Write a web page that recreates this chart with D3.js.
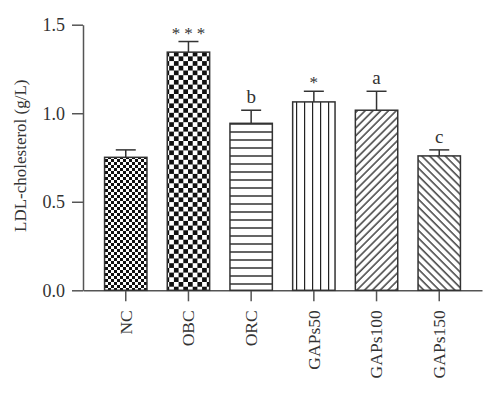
<!DOCTYPE html>
<html>
<head>
<meta charset="utf-8">
<script src="https://cdn.jsdelivr.net/npm/d3@7"></script>
<style>
	body { margin: 0; background: #fff; }
	text { font-family: 'Liberation Serif', 'DejaVu Serif', serif; fill: #333; }
</style>
</head>
<body>
<div id="chart"></div>
<script>
// data
const groups = ['NC', 'OBC', 'ORC', 'GAPs50', 'GAPs100', 'GAPs150'];
const means = [0.751, 1.345, 0.943, 1.064, 1.017, 0.759];
const errors = [0.042, 0.06, 0.074, 0.06, 0.107, 0.034];
const marks = ['', '***', 'b', '*', 'a', 'c'];
const yTicks = [0.0, 0.5, 1.0, 1.5];
const fills = ['checkSmall', 'checkBig', 'hlines', 'vlines', 'diagUp', 'diagDown'];

const width = 500;
const height = 394;
const axisColor = '#555';

const svg = d3.select('#chart')
	.append('svg')
	.attr('width', width)
	.attr('height', height);

const defs = svg.append('defs');

// fine checkerboard (NC)
let p = defs.append('pattern').attr('id', 'checkSmall')
	.attr('patternUnits', 'userSpaceOnUse').attr('width', 6).attr('height', 6);
p.append('rect').attr('width', 6).attr('height', 6).attr('fill', '#fff');
p.append('rect').attr('width', 3).attr('height', 3).attr('fill', '#111');
p.append('rect').attr('x', 3).attr('y', 3).attr('width', 3).attr('height', 3).attr('fill', '#111');

// coarse checkerboard (OBC)
p = defs.append('pattern').attr('id', 'checkBig')
	.attr('patternUnits', 'userSpaceOnUse').attr('width', 9.4).attr('height', 9.4);
p.append('rect').attr('width', 9.4).attr('height', 9.4).attr('fill', '#fff');
p.append('rect').attr('width', 4.7).attr('height', 4.7).attr('fill', '#111');
p.append('rect').attr('x', 4.7).attr('y', 4.7).attr('width', 4.7).attr('height', 4.7).attr('fill', '#111');

// horizontal lines (ORC)
p = defs.append('pattern').attr('id', 'hlines')
	.attr('patternUnits', 'userSpaceOnUse').attr('width', 8).attr('height', 8);
p.append('rect').attr('width', 8).attr('height', 8).attr('fill', '#fff');
p.append('line').attr('x1', 0).attr('x2', 8).attr('y1', 4).attr('y2', 4)
	.attr('stroke', '#222').attr('stroke-width', 1.4);

// vertical lines (GAPs50)
p = defs.append('pattern').attr('id', 'vlines')
	.attr('patternUnits', 'userSpaceOnUse').attr('width', 8).attr('height', 8);
p.append('rect').attr('width', 8).attr('height', 8).attr('fill', '#fff');
p.append('line').attr('y1', 0).attr('y2', 8).attr('x1', 0.5).attr('x2', 0.5)
	.attr('stroke', '#222').attr('stroke-width', 1.4);

// diagonal ///
p = defs.append('pattern').attr('id', 'diagUp')
	.attr('patternUnits', 'userSpaceOnUse').attr('width', 5.5).attr('height', 5.5)
	.attr('patternTransform', 'rotate(45)');
p.append('rect').attr('width', 5.5).attr('height', 5.5).attr('fill', '#fff');
p.append('line').attr('y1', 0).attr('y2', 5.5).attr('x1', 1).attr('x2', 1)
	.attr('stroke', '#222').attr('stroke-width', 1.3);

// diagonal \\\
p = defs.append('pattern').attr('id', 'diagDown')
	.attr('patternUnits', 'userSpaceOnUse').attr('width', 5.5).attr('height', 5.5)
	.attr('patternTransform', 'rotate(-45)');
p.append('rect').attr('width', 5.5).attr('height', 5.5).attr('fill', '#fff');
p.append('line').attr('y1', 0).attr('y2', 5.5).attr('x1', 1).attr('x2', 1)
	.attr('stroke', '#222').attr('stroke-width', 1.3);

const x = d3.scaleBand()
	.domain(groups)
	.range([83, 482])
	.paddingInner(0.324)
	.paddingOuter(0.344);

const y = d3.scaleLinear()
	.domain([0, 1.5])
	.range([290.3, 24.7]);

// y axis
const yAxis = svg.append('g')
	.attr('transform', 'translate(83,0)')
	.call(d3.axisLeft(y).tickValues(yTicks).tickFormat(d3.format('.1f')).tickSize(11).tickSizeOuter(0));
yAxis.select('.domain').attr('stroke', axisColor).attr('stroke-width', 1.5);
yAxis.selectAll('.tick line').attr('stroke', axisColor).attr('stroke-width', 1.5);
yAxis.selectAll('.tick text')
	.attr('x', -18)
	.attr('dy', '0.34em')
	.style('font-size', '18px')
	.style('font-family', "'Liberation Serif', serif")
	.attr('fill', '#333');

// x axis
const xAxis = svg.append('g')
	.attr('transform', 'translate(0,' + y(0) + ')')
	.call(d3.axisBottom(x).tickSize(11).tickSizeOuter(0));
xAxis.select('.domain').attr('stroke', axisColor).attr('stroke-width', 1.5);
xAxis.selectAll('.tick line').attr('stroke', axisColor).attr('stroke-width', 1.5);
xAxis.selectAll('.tick text')
	.attr('transform', 'rotate(-90)')
	.attr('x', -20)
	.attr('y', 0)
	.attr('dy', '0.34em')
	.attr('text-anchor', 'end')
	.style('font-size', '17.5px')
	.style('font-family', "'Liberation Serif', serif")
	.attr('fill', '#333');

// y label
svg.append('text')
	.attr('transform', 'translate(26,' + y(0.76) + ') rotate(-90)')
	.attr('text-anchor', 'middle')
	.style('font-size', '17px')
	.text('LDL-cholesterol (g/L)');

// error bars (drawn first so bar covers the stem)
const err = svg.append('g').attr('class', 'errors');
groups.forEach((g, i) => {
	const cx = x(g) + x.bandwidth() / 2;
	err.append('line')
		.attr('x1', cx).attr('x2', cx)
		.attr('y1', y(means[i])).attr('y2', y(means[i] + errors[i]))
		.attr('stroke', '#333').attr('stroke-width', 1.5);
	err.append('line')
		.attr('x1', cx - 10).attr('x2', cx + 10)
		.attr('y1', y(means[i] + errors[i])).attr('y2', y(means[i] + errors[i]))
		.attr('stroke', '#333').attr('stroke-width', 1.5);
});

// bars
svg.append('g').selectAll('rect')
	.data(groups)
	.enter()
	.append('rect')
	.attr('x', d => x(d))
	.attr('y', (d, i) => y(means[i]))
	.attr('width', x.bandwidth())
	.attr('height', (d, i) => y(0) - y(means[i]))
	.attr('fill', (d, i) => 'url(#' + fills[i] + ')')
	.attr('stroke', '#333')
	.attr('stroke-width', 1.5);

// significance marks
svg.append('g').selectAll('text')
	.data(groups)
	.enter()
	.append('text')
	.attr('x', (d, i) => x(d) + x.bandwidth() / 2 + (marks[i] === '***' ? 2 : 0))
	.attr('y', (d, i) => y(means[i] + errors[i]) - (marks[i].indexOf('*') >= 0 ? 3 : 7))
	.attr('text-anchor', 'middle')
	.style('font-size', (d, i) => marks[i].indexOf('*') >= 0 ? '17px' : '19px')
	.attr('letter-spacing', (d, i) => marks[i] === '***' ? '4px' : null)
	.text((d, i) => marks[i]);
</script>
</body>
</html>
